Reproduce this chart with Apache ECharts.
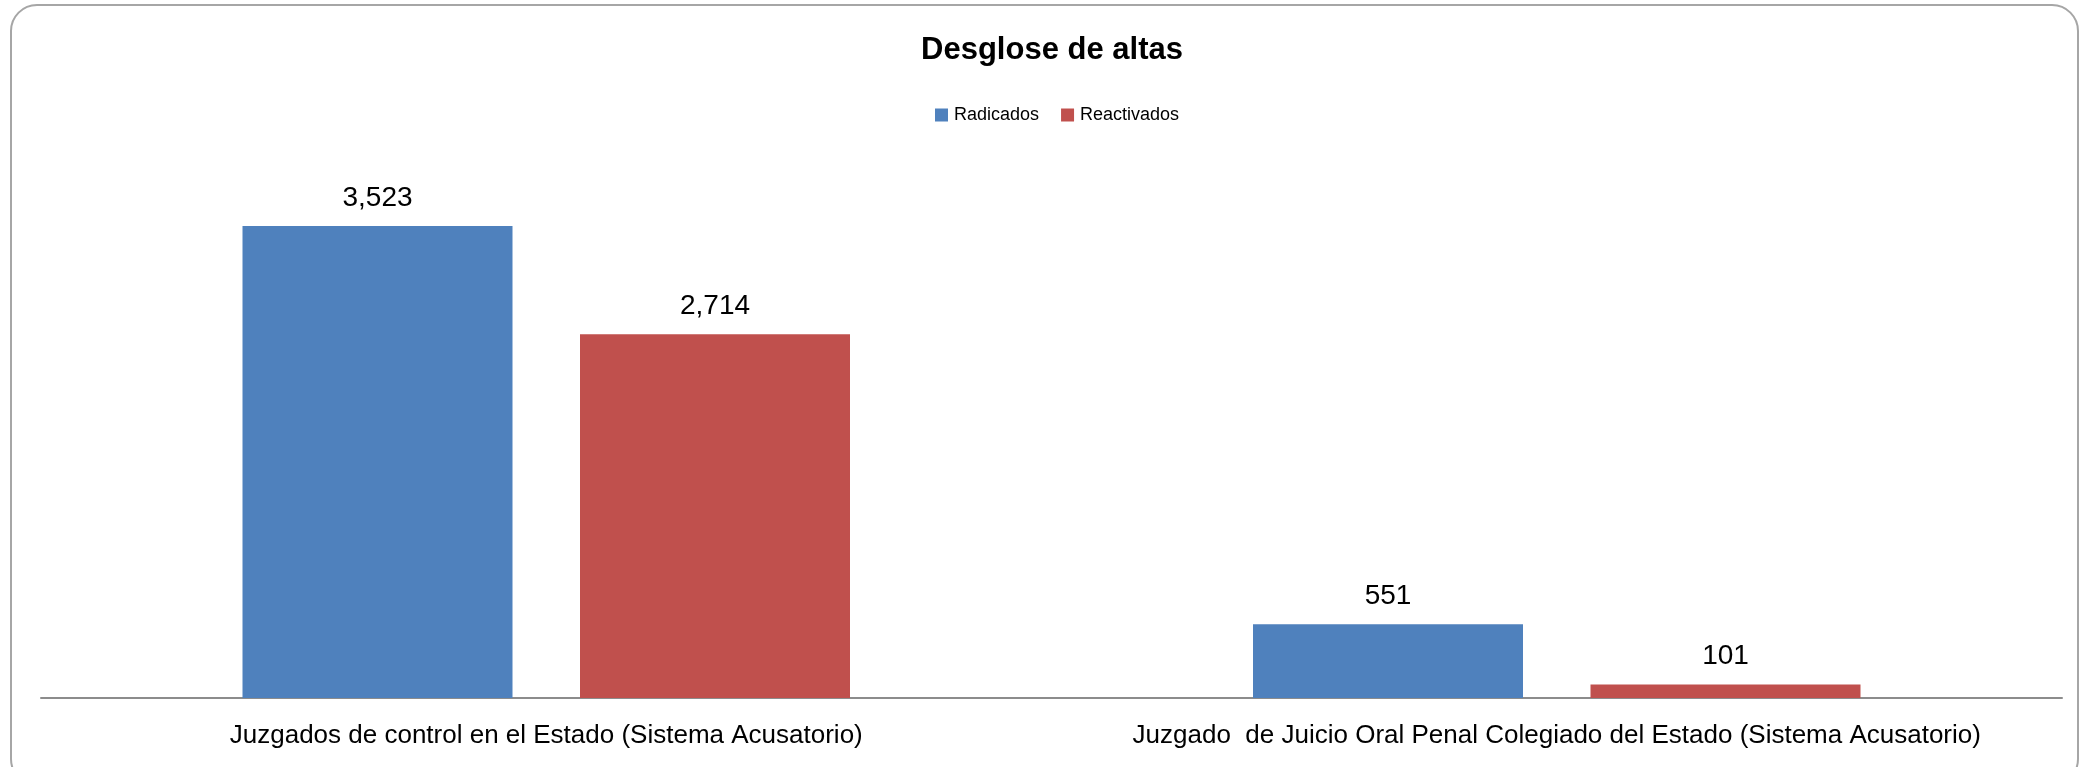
<!DOCTYPE html>
<html>
<head>
<meta charset="utf-8" />
<script src="https://cdn.jsdelivr.net/npm/echarts@6/dist/echarts.min.js"></script>
<style>
  html, body { margin: 0; padding: 0; background: #fff; }
  #chart { width: 2085px; height: 767px; }
</style>
</head>
<body>
<div id="chart"></div>
<script>
// datos
var categorias = ['Juzgados de control en el Estado (Sistema Acusatorio)',
                  'Juzgado  de Juicio Oral Penal Colegiado del Estado (Sistema Acusatorio)'];
var radicados = [3523, 551];
var reactivados = [2714, 101];

var fuente = 'Liberation Sans, Arial, sans-serif';

var myChart = echarts.init(document.getElementById('chart'));
myChart.setOption({
    animation: false,
    textStyle: {fontFamily: fuente},
    title: {
        text: 'Desglose de altas',
        left: 1052,
        textAlign: 'center',
        top: 35,
        padding: 0,
        textStyle: {fontSize: 31, fontWeight: 'bold', color: '#000'}
    },
    legend: {
        data: ['Radicados', 'Reactivados'],
        top: 101,
        left: 930,
        itemWidth: 13,
        itemHeight: 13,
        itemGap: 22,
        icon: 'rect',
        textStyle: {fontSize: 18, color: '#000', padding: [0, 0, 0, 1]}
    },
    graphic: [{
        type: 'rect',
        silent: true,
        shape: {x: 11, y: 5, width: 2067, height: 780, r: 26},
        style: {fill: 'none', stroke: '#a6a6a6', lineWidth: 2}
    }],
    grid: {left: 41, right: 23, top: 162, bottom: 69},
    xAxis: {
        type: 'category',
        data: categorias,
        axisTick: {show: false},
        axisLine: {lineStyle: {color: '#8c8c8c', width: 2}},
        axisLabel: {fontSize: 26, color: '#000', margin: 25, interval: 0}
    },
    yAxis: {
        type: 'value',
        min: 0,
        max: 4000,
        show: false,
        splitLine: {show: false}
    },
    series: [{
        name: 'Radicados',
        type: 'bar',
        data: radicados,
        barWidth: 270,
        barGap: '25%',
        itemStyle: {color: '#4f81bd'},
        label: {show: true, position: 'top', distance: 14, fontSize: 28, color: '#000',
                formatter: function (p) { return p.value.toLocaleString('en-US'); }}
    }, {
        name: 'Reactivados',
        type: 'bar',
        data: reactivados,
        barWidth: 270,
        itemStyle: {color: '#c0504d'},
        label: {show: true, position: 'top', distance: 14, fontSize: 28, color: '#000',
                formatter: function (p) { return p.value.toLocaleString('en-US'); }}
    }]
});
</script>
</body>
</html>
